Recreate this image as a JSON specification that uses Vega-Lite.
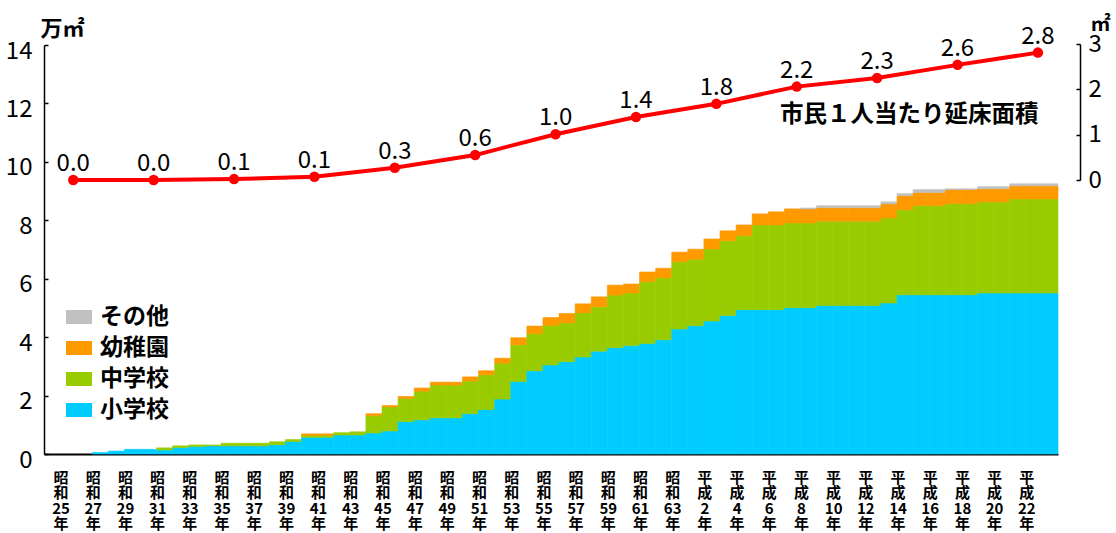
{
  "$schema": "https://vega.github.io/schema/vega-lite/v6.json",
  "width": 1014,
  "height": 409,
  "autosize": {"type": "none"},
  "padding": {"left": 44, "top": 45, "right": 58, "bottom": 79},
  "background": "white",
  "config": {"view": {"stroke": null}, "font": "Noto Sans CJK JP"},
  "datasets": {
    "types": [
      {"type": "小学校", "rank": 1},
      {"type": "中学校", "rank": 2},
      {"type": "幼稚園", "rank": 3},
      {"type": "その他", "rank": 4}
    ],
    "area": [
      {"year": 1950, "小学校": 0, "中学校": 0, "幼稚園": 0, "その他": 0},
      {"year": 1951, "小学校": 0, "中学校": 0, "幼稚園": 0, "その他": 0},
      {"year": 1952, "小学校": 0, "中学校": 0, "幼稚園": 0, "その他": 0},
      {"year": 1953, "小学校": 0.05, "中学校": 0, "幼稚園": 0, "その他": 0},
      {"year": 1954, "小学校": 0.1, "中学校": 0, "幼稚園": 0, "その他": 0},
      {"year": 1955, "小学校": 0.16, "中学校": 0, "幼稚園": 0, "その他": 0},
      {"year": 1956, "小学校": 0.16, "中学校": 0, "幼稚園": 0, "その他": 0},
      {"year": 1957, "小学校": 0.14, "中学校": 0.07, "幼稚園": 0, "その他": 0},
      {"year": 1958, "小学校": 0.22, "中学校": 0.06, "幼稚園": 0, "その他": 0},
      {"year": 1959, "小学校": 0.26, "中学校": 0.05, "幼稚園": 0, "その他": 0},
      {"year": 1960, "小学校": 0.28, "中学校": 0.03, "幼稚園": 0, "その他": 0},
      {"year": 1961, "小学校": 0.28, "中学校": 0.09, "幼稚園": 0, "その他": 0},
      {"year": 1962, "小学校": 0.28, "中学校": 0.09, "幼稚園": 0, "その他": 0},
      {"year": 1963, "小学校": 0.28, "中学校": 0.09, "幼稚園": 0, "その他": 0},
      {"year": 1964, "小学校": 0.32, "中学校": 0.1, "幼稚園": 0, "その他": 0},
      {"year": 1965, "小学校": 0.43, "中学校": 0.07, "幼稚園": 0, "その他": 0},
      {"year": 1966, "小学校": 0.57, "中学校": 0.07, "幼稚園": 0.05, "その他": 0},
      {"year": 1967, "小学校": 0.57, "中学校": 0.07, "幼稚園": 0.05, "その他": 0},
      {"year": 1968, "小学校": 0.65, "中学校": 0.08, "幼稚園": 0, "その他": 0},
      {"year": 1969, "小学校": 0.65, "中学校": 0.11, "幼稚園": 0, "その他": 0},
      {"year": 1970, "小学校": 0.72, "中学校": 0.59, "幼稚園": 0.07, "その他": 0},
      {"year": 1971, "小学校": 0.79, "中学校": 0.82, "幼稚園": 0.05, "その他": 0},
      {"year": 1972, "小学校": 1.11, "中学校": 0.79, "幼稚園": 0.07, "その他": 0},
      {"year": 1973, "小学校": 1.17, "中学校": 0.98, "幼稚園": 0.11, "その他": 0},
      {"year": 1974, "小学校": 1.24, "中学校": 1.12, "幼稚園": 0.1, "その他": 0},
      {"year": 1975, "小学校": 1.24, "中学校": 1.12, "幼稚園": 0.1, "その他": 0},
      {"year": 1976, "小学校": 1.38, "中学校": 1.12, "幼稚園": 0.14, "その他": 0},
      {"year": 1977, "小学校": 1.52, "中学校": 1.19, "幼稚園": 0.14, "その他": 0},
      {"year": 1978, "小学校": 1.88, "中学校": 1.23, "幼稚園": 0.17, "その他": 0},
      {"year": 1979, "小学校": 2.48, "中学校": 1.26, "幼稚園": 0.24, "その他": 0},
      {"year": 1980, "小学校": 2.85, "中学校": 1.27, "幼稚園": 0.26, "その他": 0},
      {"year": 1981, "小学校": 3.05, "中学校": 1.35, "幼稚園": 0.27, "その他": 0},
      {"year": 1982, "小学校": 3.16, "中学校": 1.33, "幼稚園": 0.32, "その他": 0},
      {"year": 1983, "小学校": 3.32, "中学校": 1.51, "幼稚園": 0.31, "その他": 0},
      {"year": 1984, "小学校": 3.52, "中学校": 1.52, "幼稚園": 0.34, "その他": 0},
      {"year": 1985, "小学校": 3.64, "中学校": 1.8, "幼稚園": 0.34, "その他": 0},
      {"year": 1986, "小学校": 3.71, "中学校": 1.8, "幼稚園": 0.31, "その他": 0},
      {"year": 1987, "小学校": 3.78, "中学校": 2.12, "幼稚園": 0.33, "その他": 0},
      {"year": 1988, "小学校": 3.91, "中学校": 2.12, "幼稚園": 0.33, "その他": 0},
      {"year": 1989, "小学校": 4.28, "中学校": 2.3, "幼稚園": 0.33, "その他": 0},
      {"year": 1990, "小学校": 4.39, "中学校": 2.28, "幼稚園": 0.34, "その他": 0},
      {"year": 1991, "小学校": 4.55, "中学校": 2.47, "幼稚園": 0.34, "その他": 0},
      {"year": 1992, "小学校": 4.74, "中学校": 2.56, "幼稚園": 0.34, "その他": 0},
      {"year": 1993, "小学校": 4.94, "中学校": 2.53, "幼稚園": 0.37, "その他": 0},
      {"year": 1994, "小学校": 4.94, "中学校": 2.9, "幼稚園": 0.38, "その他": 0},
      {"year": 1995, "小学校": 4.94, "中学校": 2.9, "幼稚園": 0.45, "その他": 0},
      {"year": 1996, "小学校": 5.01, "中学校": 2.9, "幼稚園": 0.48, "その他": 0},
      {"year": 1997, "小学校": 5.01, "中学校": 2.9, "幼稚園": 0.48, "その他": 0.03},
      {"year": 1998, "小学校": 5.08, "中学校": 2.89, "幼稚園": 0.46, "その他": 0.07},
      {"year": 1999, "小学校": 5.08, "中学校": 2.89, "幼稚園": 0.46, "その他": 0.07},
      {"year": 2000, "小学校": 5.08, "中学校": 2.89, "幼稚園": 0.46, "その他": 0.07},
      {"year": 2001, "小学校": 5.08, "中学校": 2.89, "幼稚園": 0.46, "その他": 0.07},
      {"year": 2002, "小学校": 5.17, "中学校": 2.91, "幼稚園": 0.48, "その他": 0.07},
      {"year": 2003, "小学校": 5.45, "中学校": 2.91, "幼稚園": 0.48, "その他": 0.07},
      {"year": 2004, "小学校": 5.45, "中学校": 3.05, "幼稚園": 0.45, "その他": 0.1},
      {"year": 2005, "小学校": 5.45, "中学校": 3.05, "幼稚園": 0.45, "その他": 0.1},
      {"year": 2006, "小学校": 5.45, "中学校": 3.12, "幼稚園": 0.48, "その他": 0.03},
      {"year": 2007, "小学校": 5.45, "中学校": 3.12, "幼稚園": 0.48, "その他": 0.03},
      {"year": 2008, "小学校": 5.51, "中学校": 3.12, "幼稚園": 0.45, "その他": 0.07},
      {"year": 2009, "小学校": 5.51, "中学校": 3.12, "幼稚園": 0.45, "その他": 0.07},
      {"year": 2010, "小学校": 5.51, "中学校": 3.22, "幼稚園": 0.45, "その他": 0.07},
      {"year": 2011, "小学校": 5.51, "中学校": 3.22, "幼稚園": 0.45, "その他": 0.07},
      {"year": 2012, "小学校": 5.51, "中学校": 3.22, "幼稚園": 0.45, "その他": 0.07}
    ],
    "percap": [
      {"year": 1950, "value": 0.0, "label": "0.0"},
      {"year": 1955, "value": 0.0, "label": "0.0"},
      {"year": 1960, "value": 0.02, "label": "0.1"},
      {"year": 1965, "value": 0.07, "label": "0.1"},
      {"year": 1970, "value": 0.27, "label": "0.3"},
      {"year": 1975, "value": 0.55, "label": "0.6"},
      {"year": 1980, "value": 1.01, "label": "1.0"},
      {"year": 1985, "value": 1.39, "label": "1.4"},
      {"year": 1990, "value": 1.68, "label": "1.8"},
      {"year": 1995, "value": 2.06, "label": "2.2"},
      {"year": 2000, "value": 2.25, "label": "2.3"},
      {"year": 2005, "value": 2.54, "label": "2.6"},
      {"year": 2010, "value": 2.81, "label": "2.8"}
    ]
  },
  "layer": [
    {
      "data": {"name": "area"},
      "transform": [
        {"fold": ["小学校", "中学校", "幼稚園", "その他"], "as": ["type", "area"]},
        {"lookup": "type", "from": {"data": {"name": "types"}, "key": "type", "fields": ["rank"]}}
      ],
      "mark": {"type": "bar", "strokeWidth": 0.6},
      "encoding": {
        "x": {
          "field": "year", "type": "ordinal",
          "scale": {"paddingInner": 0, "paddingOuter": 0},
          "axis": {
            "orient": "bottom", "title": null, "ticks": false, "domain": true,
            "domainColor": "black", "domainWidth": 2, "zindex": 0,
            "labelAngle": 0, "labelFontSize": 15, "labelFontWeight": "bold",
            "labelLineHeight": 15.5, "labelBaseline": "top", "labelPadding": 16,
            "labelOffset": 9, "labelColor": "black", "labelOverlap": false,
            "labelExpr": "datum.value % 2 == 0 && datum.value <= 2010 ? (datum.value < 1989 ? ['昭', '和', '' + (datum.value - 1925), '年'] : ['平', '成', '' + (datum.value - 1988), '年']) : ''"
          }
        },
        "y": {
          "field": "area", "type": "quantitative", "stack": "zero",
          "scale": {"domain": [0, 14], "nice": false},
          "axis": {
            "orient": "left", "values": [0, 2, 4, 6, 8, 10, 12, 14], "grid": false,
            "domainColor": "black", "domainWidth": 1.5, "tickColor": "black", "tickWidth": 1.5,
            "tickSize": -4, "labelPadding": 16, "labelFontSize": 24, "labelOffset": 6,
            "labelColor": "black", "title": "万㎡", "titleAngle": 0, "titleX": 18, "titleY": -17,
            "titleAlign": "center", "titleBaseline": "middle", "titleFontSize": 22,
            "titleFontWeight": "bold", "titleColor": "black"
          }
        },
        "order": {"field": "rank", "type": "quantitative", "sort": "ascending"},
        "color": {
          "field": "type", "type": "nominal",
          "scale": {"domain": ["その他", "幼稚園", "中学校", "小学校"], "range": ["#C0C0C0", "#FF9900", "#99CC00", "#00CCFF"]},
          "legend": {
            "orient": "none", "legendX": 22, "legendY": 259, "title": null,
            "symbolType": "M-1,-0.54H1V0.54H-1Z", "symbolSize": 676, "symbolStrokeWidth": 0,
            "labelFontSize": 23, "labelFontWeight": "bold", "labelColor": "black",
            "labelOffset": 8, "rowPadding": 6, "padding": 0
          }
        },
        "stroke": {
          "condition": {
            "test": "datum.area > 0", "field": "type", "type": "nominal",
            "scale": {"domain": ["その他", "幼稚園", "中学校", "小学校"], "range": ["#C0C0C0", "#FF9900", "#99CC00", "#00CCFF"]},
            "legend": null
          },
          "value": "transparent"
        }
      }
    },
    {
      "data": {"name": "percap"},
      "encoding": {
        "x": {"field": "year", "type": "quantitative", "scale": {"domain": [1948.18, 2011.25], "nice": false, "zero": false}, "axis": null},
        "y": {
          "field": "value", "type": "quantitative",
          "scale": {"domain": [0, 3], "range": [135, -1], "nice": false, "zero": false},
          "axis": {
            "orient": "right", "offset": 22, "values": [0, 1, 2, 3], "grid": false,
            "domainColor": "black", "domainWidth": 1.5, "tickColor": "black", "tickWidth": 1.5,
            "tickSize": -4, "labelPadding": 12, "labelFontSize": 24, "labelColor": "black",
            "title": "㎡", "titleAngle": 0, "titleX": 20, "titleY": -21,
            "titleAlign": "center", "titleBaseline": "middle", "titleFontSize": 20,
            "titleFontWeight": "bold", "titleColor": "black"
          }
        }
      },
      "layer": [
        {"mark": {"type": "line", "color": "#FF0000", "strokeWidth": 4}},
        {"mark": {"type": "point", "filled": true, "color": "#FF0000", "size": 110, "opacity": 1}},
        {"mark": {"type": "text", "dy": -9, "fontSize": 24, "baseline": "alphabetic", "color": "black"}, "encoding": {"text": {"field": "label"}}},
        {
          "data": {"values": [{"year": 2002, "value": 1.43, "text": "市民１人当たり延床面積"}]},
          "mark": {"type": "text", "fontSize": 23.5, "fontWeight": "bold", "baseline": "middle", "align": "center", "color": "black"},
          "encoding": {"text": {"field": "text"}}
        }
      ]
    }
  ],
  "resolve": {"scale": {"x": "independent", "y": "independent"}, "axis": {"x": "independent", "y": "independent"}}
}
